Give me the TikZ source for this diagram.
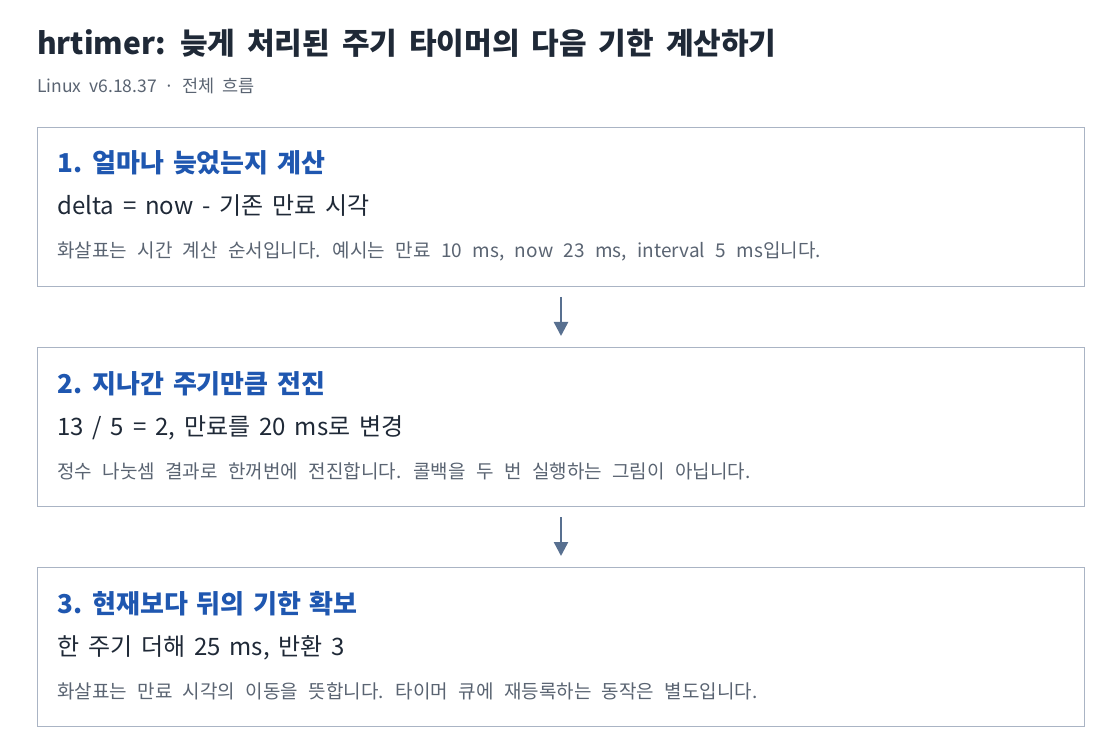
\documentclass[tikz,border=0pt]{standalone}
\usepackage{fontspec}
\setmainfont{Noto Sans CJK KR}
\usetikzlibrary{arrows.meta}
\definecolor{boxline}{HTML}{AAB4C4}
\definecolor{headblue}{HTML}{1F57B0}
\definecolor{inkdark}{HTML}{1F2937}
\definecolor{inkgray}{HTML}{5A6472}
\definecolor{flowblue}{HTML}{587090}
\newcommand\titlefont{\fontsize{30}{34}\selectfont\bfseries\spaceskip=0.4em\relax}
\newcommand\subfont{\fontsize{17.5}{21}\selectfont\spaceskip=0.45em\relax}
\newcommand\headfont{\fontsize{26}{30}\selectfont\bfseries\spaceskip=0.33em\relax}
\newcommand\formulafont{\fontsize{24}{28}\selectfont\spaceskip=0.37em\relax}
\newcommand\notefont{\fontsize{19}{23}\selectfont\spaceskip=0.55em\relax}
\tikzset{
  stepbox/.style={shape=rectangle,draw=boxline,line width=1pt,minimum width=1047pt,minimum height=159pt,anchor=north west,inner sep=0pt},
  heading/.style={anchor=base west,text=headblue,font=\headfont,inner sep=0pt},
  formula/.style={anchor=base west,text=inkdark,font=\formulafont,inner sep=0pt},
  note/.style={anchor=base west,text=inkgray,font=\notefont,inner sep=0pt},
  flow/.style={-{Triangle[width=14pt,length=14pt]},draw=flowblue,line width=2.5pt,shorten <=10pt,shorten >=11pt}
}
\begin{document}
\begin{tikzpicture}[x=1pt,y=-1pt]
\useasboundingbox[fill=white] (0,0) rectangle (1120,754);
\node[anchor=base west,inner sep=0pt,text=inkdark,font=\titlefont] (title) at (37,55) {hrtimer: 늦게 처리된 주기 타이머의 다음 기한 계산하기};
\node[anchor=base west,inner sep=0pt,text=inkgray,font=\subfont] (sub) at (37,93) {Linux v6.18.37 · 전체 흐름};

\node[stepbox] (b1) at (37,127) {};
\node[heading] (h1) at (57,173) {1. 얼마나 늦었는지 계산};
\node[formula] (f1) at (57,215) {delta = now - 기존 만료 시각};
\node[note] (n1) at (57,258) {화살표는 시간 계산 순서입니다. 예시는 만료 10 ms, now 23 ms, interval 5 ms입니다.};

\node[stepbox] (b2) at (37,347) {};
\node[heading] (h2) at (57,393) {2. 지나간 주기만큼 전진};
\node[formula] (f2) at (57,435) {13 / 5 = 2, 만료를 20 ms로 변경};
\node[note] (n2) at (57,478) {정수 나눗셈 결과로 한꺼번에 전진합니다. 콜백을 두 번 실행하는 그림이 아닙니다.};

\node[stepbox] (b3) at (37,567) {};
\node[heading] (h3) at (57,613) {3. 현재보다 뒤의 기한 확보};
\node[formula] (f3) at (57,655) {한 주기 더해 25 ms, 반환 3};
\node[note] (n3) at (57,698) {화살표는 만료 시각의 이동을 뜻합니다. 타이머 큐에 재등록하는 동작은 별도입니다.};

\draw[flow] (b1) -- (b2);
\draw[flow] (b2) -- (b3);
\end{tikzpicture}
\end{document}
